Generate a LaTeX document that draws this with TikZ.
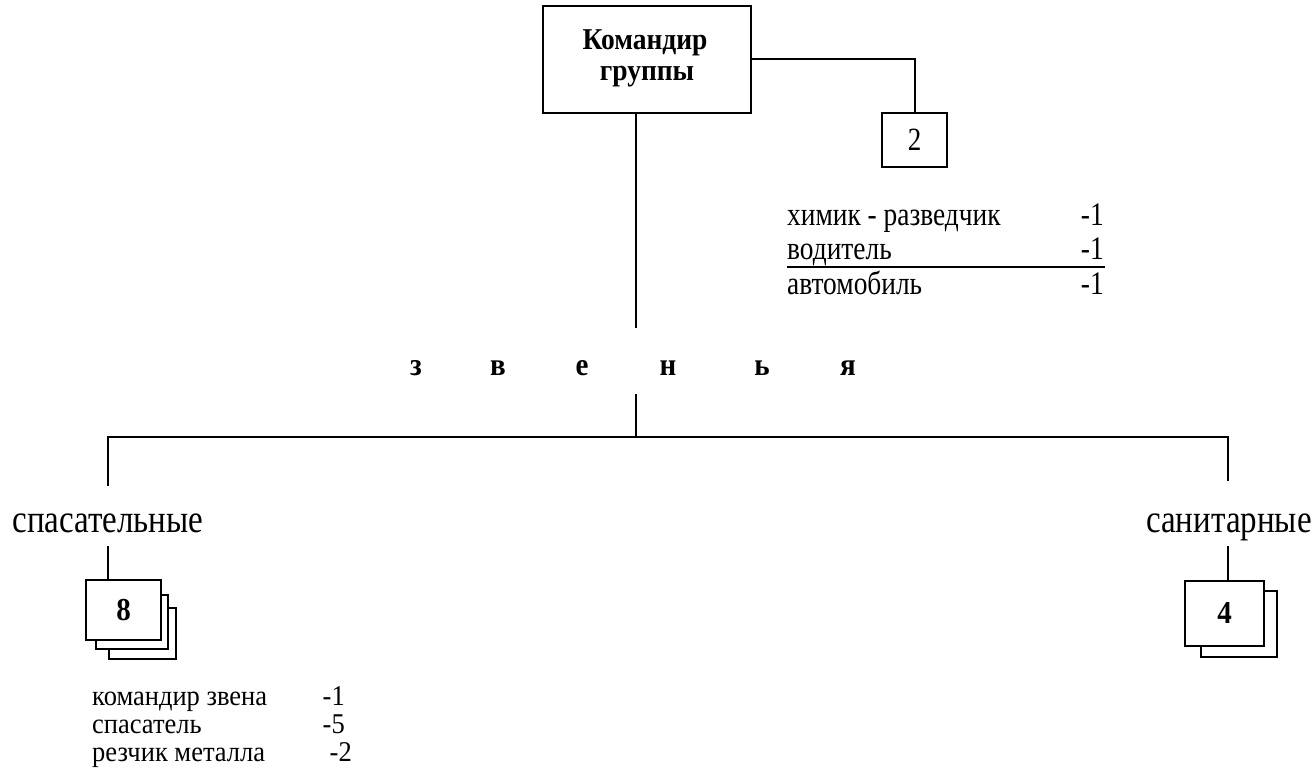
\documentclass[tikz,border=0pt]{standalone}
\usepackage{fontspec}
\setmainfont{Liberation Serif}
\newcommand\vst[1]{\scalebox{1}[1.2]{#1}}
\newcommand\vsb[1]{\scalebox{1}[1.1]{#1}}
\newcommand\vsl[1]{\scalebox{1}[1.08]{#1}}
\tikzset{
  ln/.style={line width=2pt, line cap=rect},
  bx/.style={draw, line width=2pt, fill=white, inner sep=0pt, rectangle},
  lst/.style={inner sep=0pt, font=\fontsize{27.4}{27.4}\selectfont},
  lsb/.style={inner sep=0pt, font=\fontsize{26.5}{26.5}\selectfont},
  big/.style={inner sep=0pt, font=\fontsize{33}{33}\selectfont},
  zl/.style={inner sep=0pt, font=\fontsize{29}{29}\selectfont\bfseries, anchor=base},
}
\begin{document}
\begin{tikzpicture}[x=1pt,y=-1pt]
\useasboundingbox (0,0) rectangle (1315,775);
% commander
\node[bx, minimum width=208pt, minimum height=107pt] (cmd) at (647,59.5) {};
\node[inner sep=0pt, anchor=base, font=\fontsize{27.5}{27.5}\selectfont\bfseries] (cmdA) at (645,50) {\vsb{Командир}};
\node[inner sep=0pt, anchor=base, font=\fontsize{27.5}{27.5}\selectfont\bfseries] (cmdB) at (647,81) {\vsb{группы}};
% box 2
\node[bx, minimum width=65pt, minimum height=54pt, font=\fontsize{27}{27}\selectfont] (two) at (914.5,140) {\vst{2}};
\draw[ln] (cmd.east) -| (two.north);
% right list
\node[lst, anchor=base west] (r1) at (787,226) {\vst{химик - разведчик}};
\node[lst, anchor=base west] (r2) at (787,260) {\vst{водитель}};
\node[lst, anchor=base west] (r3) at (787,295) {\vst{автомобиль}};
\node[lst, anchor=base east] (n1) at (1104,226) {\vst{-1}};
\node[lst, anchor=base east] (n2) at (1104,260) {\vst{-1}};
\node[lst, anchor=base east] (n3) at (1104,295) {\vst{-1}};
\coordinate (ulL) at (787,267);
\coordinate (ulR) at (1105,267);
\draw[line width=2pt] (ulL) -- (ulR);
% zvenya
\coordinate (ztop) at (636,327);
\coordinate (zbot) at (636,395);
\coordinate (hub) at (636,437);
\draw[ln] (cmd.south -| ztop) -- (ztop);
\draw[ln] (zbot) -- (hub);
\node[zl] (z1) at (416,376) {\vsb{з}};
\node[zl] (z2) at (498,376) {\vsb{в}};
\node[zl] (z3) at (582,376) {\vsb{е}};
\node[zl] (z4) at (668,376) {\vsb{н}};
\node[zl] (z5) at (762,376) {\vsb{ь}};
\node[zl] (z6) at (848,376) {\vsb{я}};
% horizontal bar
\coordinate (lft) at (108,437);
\coordinate (rgt) at (1228,437);
\draw[ln] (lft) -- (rgt);
% left branch
\coordinate (lA) at (108,485);
\coordinate (lB) at (108,547);
\draw[ln] (lft) -- (lA);
\node[big, anchor=base] (spas) at (108,532) {\vst{спасательные}};
\node[bx, minimum width=67pt, minimum height=51pt] (b8c) at (142.5,633.5) {};
\node[bx, minimum width=72pt, minimum height=54pt] (b8b) at (132,622) {};
\node[bx, minimum width=75pt, minimum height=60pt, font=\fontsize{29}{29}\selectfont\bfseries] (b8) at (123.5,610) {\vsb{8}};
\draw[ln] (lB) -- (b8.north -| lB);
\node[lsb, anchor=base west] (l1) at (92,705) {\vsl{командир звена}};
\node[lsb, anchor=base west] (l2) at (92,733) {\vsl{спасатель}};
\node[lsb, anchor=base west] (l3) at (92,761) {\vsl{резчик металла}};
\node[lsb, anchor=base east] (m1) at (345,705) {\vsl{-1}};
\node[lsb, anchor=base east] (m2) at (345,733) {\vsl{-5}};
\node[lsb, anchor=base east] (m3) at (352,761) {\vsl{-2}};
% right branch
\coordinate (rA) at (1228,480);
\coordinate (rB) at (1228,547);
\draw[ln] (rgt) -- (rA);
\node[big, anchor=base] (san) at (1229,532) {\vst{санитарные}};
\node[bx, minimum width=76pt, minimum height=66pt] (b4b) at (1239,624) {};
\node[bx, minimum width=79pt, minimum height=65pt, font=\fontsize{29}{29}\selectfont\bfseries] (b4) at (1224.5,613.5) {\vsb{4}};
\draw[ln] (rB) -- (b4.north -| rB);
\end{tikzpicture}
\end{document}
